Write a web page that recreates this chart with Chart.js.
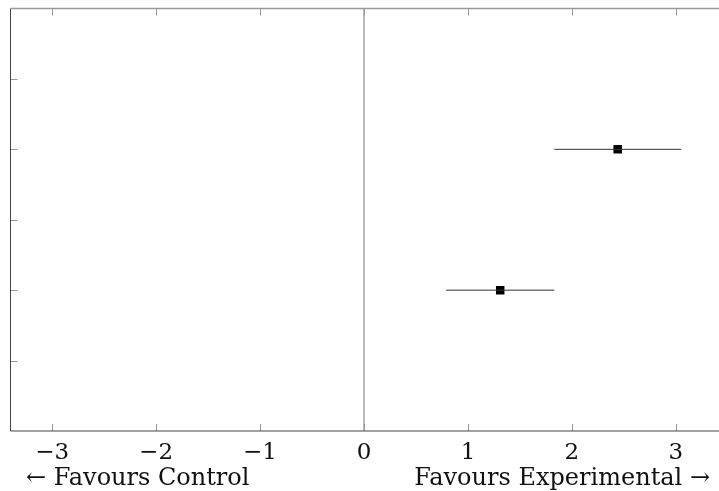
<!DOCTYPE html>
<html>
<head>
<meta charset="utf-8">
<script src="https://cdn.jsdelivr.net/npm/chart.js@4.4.1/dist/chart.umd.min.js"></script>
<style>
  html, body { margin: 0; padding: 0; background: #fff; }
  #wrap { width: 719px; height: 491px; }
</style>
</head>
<body>
<div id="wrap"><canvas id="forest"></canvas></div>
<script>
// forest plot data (row position counted from the bottom)
const rows = [4, 2];
const estimates = [2.44, 1.31];
const lower = [1.83, 0.79];
const upper = [3.05, 1.83];
const xTicks = [-3, -2, -1, 0, 1, 2, 3];
const yTicks = [1, 2, 3, 4, 5];
const xMin = -3.4, xMax = 3.4;
const yMin = 0, yMax = 6;
const leftLabel = '\u2190 Favours Control';
const rightLabel = 'Favours Experimental \u2192';

const serif = "'DejaVu Serif', 'Liberation Serif', serif";

function fmt(v) {
  return v < 0 ? '\u2212' + Math.abs(v) : String(v);
}

const datasets = [];

// zero line
datasets.push({
  type: 'line',
  data: [{ x: 0, y: yMin }, { x: 0, y: yMax }],
  borderColor: '#777',
  borderWidth: 1,
  pointRadius: 0,
});

// confidence intervals
rows.forEach((r, i) => {
  datasets.push({
    type: 'line',
    data: [{ x: lower[i], y: r }, { x: upper[i], y: r }],
    borderColor: '#333',
    borderWidth: 1,
    pointRadius: 0,
  });
});

// point estimates
datasets.push({
  type: 'scatter',
  data: rows.map((r, i) => ({ x: estimates[i], y: r })),
  pointStyle: 'rect',
  pointRadius: 6,
  backgroundColor: '#000',
  borderColor: '#000',
  borderWidth: 0,
});

// frame, inward ticks, side labels
const framePlugin = {
  id: 'frame',
  afterDraw(chart) {
    const { ctx, chartArea: a, scales } = chart;
    const xs = scales.x, ys = scales.y;
    ctx.save();
    // ticks
    ctx.strokeStyle = '#999';
    ctx.lineWidth = 1;
    ctx.beginPath();
    xTicks.forEach((v) => {
      const px = Math.round(xs.getPixelForValue(v)) + 0.5;
      ctx.moveTo(px, a.bottom);
      ctx.lineTo(px, a.bottom - 7);
      ctx.moveTo(px, a.top);
      ctx.lineTo(px, a.top + 7);
    });
    yTicks.forEach((v) => {
      const py = Math.round(ys.getPixelForValue(v)) + 0.5;
      ctx.moveTo(a.left, py);
      ctx.lineTo(a.left + 7, py);
    });
    ctx.stroke();
    // axis lines
    ctx.strokeStyle = '#444';
    ctx.beginPath();
    ctx.moveTo(a.left, a.top);
    ctx.lineTo(a.left, a.bottom);
    ctx.lineTo(chart.width, a.bottom);
    ctx.stroke();
    ctx.strokeStyle = '#999';
    ctx.lineWidth = 1.5;
    ctx.beginPath();
    ctx.moveTo(a.left, a.top);
    ctx.lineTo(chart.width, a.top);
    ctx.stroke();
    // side labels
    ctx.fillStyle = '#111';
    ctx.font = '24px ' + serif;
    ctx.textBaseline = 'alphabetic';
    ctx.textAlign = 'left';
    ctx.fillText(leftLabel, 26, 485);
    ctx.textAlign = 'right';
    ctx.fillText(rightLabel, 710, 485);
    ctx.restore();
  },
};

new Chart(document.getElementById('forest'), {
  data: { datasets },
  options: {
    responsive: true,
    maintainAspectRatio: false,
    animation: false,
    events: [],
    layout: { autoPadding: false, padding: { top: 8.5, right: 1.5, left: 0, bottom: 0 } },
    plugins: {
      legend: { display: false },
      tooltip: { enabled: false },
    },
    scales: {
      x: {
        type: 'linear',
        min: xMin,
        max: xMax,
        afterBuildTicks: (s) => { s.ticks = xTicks.map((v) => ({ value: v })); },
        afterFit: (s) => { s.height = 60; s.paddingRight = 0; s.paddingLeft = 0; },
        grid: { display: false },
        border: { display: false },
        ticks: {
          color: '#111',
          font: { family: serif, size: 23 },
          padding: 0,
          maxRotation: 0,
          callback: (v) => fmt(v),
        },
      },
      y: {
        type: 'linear',
        min: yMin,
        max: yMax,
        afterFit: (s) => { s.width = 10.5; },
        grid: { display: false },
        border: { display: false },
        ticks: { display: false },
      },
    },
  },
  plugins: [framePlugin],
});
</script>
</body>
</html>
